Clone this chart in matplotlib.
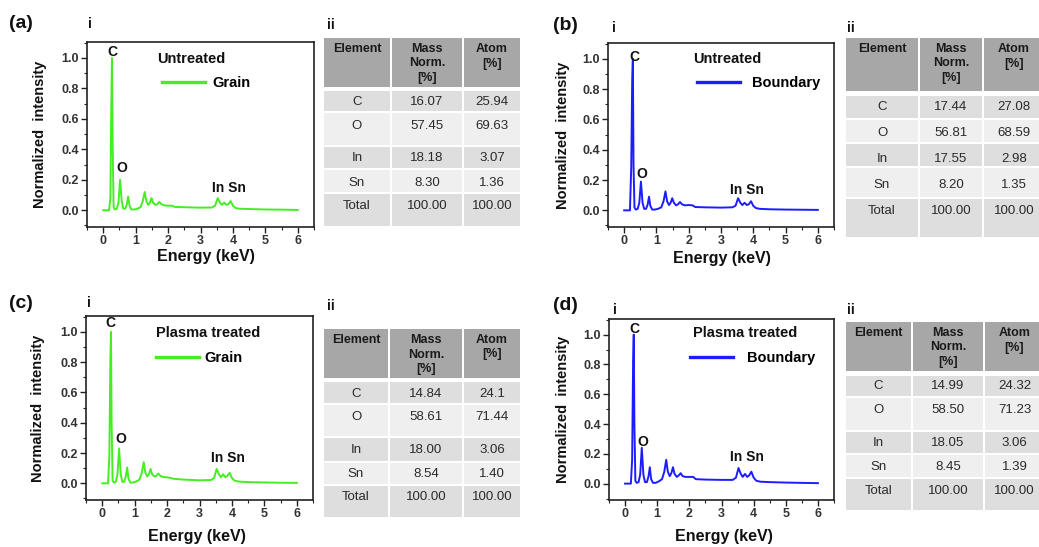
import matplotlib
matplotlib.use("Agg")
import matplotlib.pyplot as plt
from matplotlib.patches import Rectangle
from matplotlib.ticker import MultipleLocator, FormatStrFormatter

W, H = 1039, 547
plt.rcParams['font.family'] = ['Liberation Sans', 'DejaVu Sans']

# ---------------- data ----------------
energy = [0.00, 0.18, 0.22, 0.25, 0.27, 0.29, 0.32, 0.36, 0.42, 0.47, 0.52, 0.57,
          0.62, 0.68, 0.73, 0.77, 0.81, 0.87, 0.95, 1.05, 1.15, 1.22, 1.28, 1.33,
          1.39, 1.44, 1.49, 1.54, 1.61, 1.67, 1.73, 1.79, 1.88, 2.00, 2.12, 2.20,
          2.50, 3.00, 3.35, 3.45, 3.53, 3.60, 3.66, 3.73, 3.80, 3.86, 3.93, 4.00,
          4.08, 4.20, 4.50, 5.00, 5.50, 6.00]

intensity_a = [0.0, 0.0, 0.08, 0.70, 1.00, 0.45, 0.02, 0.005, 0.01, 0.05, 0.20, 0.06,
               0.01, 0.01, 0.04, 0.09, 0.03, 0.005, 0.005, 0.01, 0.02, 0.06, 0.12, 0.06,
               0.035, 0.05, 0.08, 0.05, 0.035, 0.04, 0.055, 0.04, 0.032, 0.03, 0.03, 0.022,
               0.02, 0.017, 0.018, 0.03, 0.08, 0.05, 0.035, 0.05, 0.035, 0.04, 0.06, 0.03,
               0.015, 0.01, 0.008, 0.005, 0.004, 0.002]
intensity_b = [0.0, 0.0, 0.29, 0.87, 1.00, 0.30, 0.02, 0.005, 0.01, 0.05, 0.19, 0.05,
               0.01, 0.01, 0.04, 0.09, 0.03, 0.005, 0.005, 0.01, 0.02, 0.06, 0.125, 0.06,
               0.035, 0.05, 0.08, 0.05, 0.033, 0.04, 0.055, 0.04, 0.033, 0.035, 0.033, 0.022,
               0.02, 0.018, 0.02, 0.03, 0.08, 0.05, 0.035, 0.05, 0.035, 0.04, 0.06, 0.03,
               0.015, 0.01, 0.007, 0.005, 0.004, 0.003]
intensity_c = [0.0, 0.0, 0.18, 0.80, 1.00, 0.40, 0.02, 0.005, 0.01, 0.06, 0.23, 0.06,
               0.01, 0.01, 0.05, 0.105, 0.03, 0.005, 0.005, 0.012, 0.025, 0.07, 0.14, 0.07,
               0.045, 0.06, 0.095, 0.06, 0.045, 0.05, 0.065, 0.05, 0.042, 0.04, 0.035, 0.03,
               0.025, 0.02, 0.022, 0.035, 0.095, 0.06, 0.04, 0.06, 0.04, 0.05, 0.07, 0.035,
               0.018, 0.012, 0.008, 0.006, 0.004, 0.003]
intensity_d = [0.0, 0.0, 0.16, 0.82, 1.00, 0.40, 0.02, 0.005, 0.01, 0.06, 0.24, 0.06,
               0.01, 0.01, 0.05, 0.11, 0.03, 0.005, 0.005, 0.015, 0.03, 0.08, 0.16, 0.08,
               0.05, 0.07, 0.11, 0.065, 0.045, 0.055, 0.07, 0.05, 0.045, 0.045, 0.045, 0.03,
               0.027, 0.025, 0.025, 0.04, 0.105, 0.065, 0.045, 0.065, 0.045, 0.055, 0.08, 0.04,
               0.02, 0.013, 0.01, 0.007, 0.005, 0.003]

x_ticks = [0, 1, 2, 3, 4, 5, 6]
y_ticks = [0.0, 0.2, 0.4, 0.6, 0.8, 1.0]

table_header = ["Element", "Mass\nNorm.\n[%]", "Atom\n[%]"]
elements = ["C", "O", "In", "Sn", "Total"]
mass_a = ["16.07", "57.45", "18.18", "8.30", "100.00"]
atom_a = ["25.94", "69.63", "3.07", "1.36", "100.00"]
mass_b = ["17.44", "56.81", "17.55", "8.20", "100.00"]
atom_b = ["27.08", "68.59", "2.98", "1.35", "100.00"]
mass_c = ["14.84", "58.61", "18.00", "8.54", "100.00"]
atom_c = ["24.1", "71.44", "3.06", "1.40", "100.00"]
mass_d = ["14.99", "58.50", "18.05", "8.45", "100.00"]
atom_d = ["24.32", "71.23", "3.06", "1.39", "100.00"]

GREEN = '#44ee22'
BLUE = '#1c1cff'

# ---------------- layout (pixels) ----------------
panels = [
    dict(tag='(a)', tag_xy=(21, 24), i_xy=(90, 24), ii_xy=(331, 25),
         box=(87, 42, 314, 227), color=GREEN, y=intensity_a,
         title='Untreated', title_xy=(157, 59), leg='Grain', leg_xy=(162, 83), leg_pad=0.48,
         C_xy=(112, 52), O_xy=(122, 168), InSn_xy=(229, 188),
         ylab_x=40, xlab_xy=(206, 256),
         cols=[323, 391, 463, 521],
         rows=[(37, 88), (90, 112), (112, 146), (146, 169), (169, 193), (193, 227)],
         text_y=[102, 126, 158, 183, 206], head_y=49,
         mass=mass_a, atom=atom_a),
    dict(tag='(b)', tag_xy=(565, 25), i_xy=(614, 28), ii_xy=(851, 28),
         box=(608, 43, 834, 227), color=BLUE, y=intensity_b,
         title='Untreated', title_xy=(693, 59), leg='Boundary', leg_xy=(697, 83), leg_pad=0.82,
         C_xy=(634, 57), O_xy=(642, 174), InSn_xy=(747, 190),
         ylab_x=563, xlab_xy=(722, 259),
         cols=[845, 919, 983, 1045],
         rows=[(37, 92), (95, 119), (119, 143), (143, 167), (167, 198), (198, 238)],
         text_y=[107, 133, 159, 185, 211], head_y=49,
         mass=mass_b, atom=atom_b),
    dict(tag='(c)', tag_xy=(21, 303), i_xy=(89, 303), ii_xy=(331, 306),
         box=(86, 316, 313, 500), color=GREEN, y=intensity_c,
         title='Plasma treated', title_xy=(156, 333), leg='Grain', leg_xy=(156, 358), leg_pad=0.34,
         C_xy=(110, 323), O_xy=(121, 439), InSn_xy=(228, 458),
         ylab_x=38, xlab_xy=(197, 537),
         cols=[323, 389, 463, 521],
         rows=[(328, 379), (381, 404), (404, 437), (437, 462), (462, 485), (485, 518)],
         text_y=[394, 417, 450, 474, 497], head_y=340,
         mass=mass_c, atom=atom_c),
    dict(tag='(d)', tag_xy=(565, 306), i_xy=(615, 310), ii_xy=(851, 310),
         box=(609, 319, 834, 500), color=BLUE, y=intensity_d,
         title='Plasma treated', title_xy=(693, 333), leg='Boundary', leg_xy=(690, 358), leg_pad=0.96,
         C_xy=(634, 329), O_xy=(643, 442), InSn_xy=(747, 457),
         ylab_x=563, xlab_xy=(724, 537),
         cols=[845, 912, 984, 1045],
         rows=[(321, 372), (375, 397), (397, 431), (431, 454), (454, 478), (478, 511)],
         text_y=[386, 410, 443, 467, 491], head_y=333,
         mass=mass_d, atom=atom_d),
]

ROW_COLORS = ['#dedede', '#efefef', '#dedede', '#efefef', '#dedede']
HEAD_COLOR = '#a7a7a7'

fig = plt.figure(figsize=(W / 100, H / 100), dpi=100)


def fx(x):
    return x / W


def fy(y):
    return 1 - y / H


def ftext(x, y, s, **kw):
    kw.setdefault('ha', 'center')
    kw.setdefault('va', 'center')
    fig.text(fx(x), fy(y), s, **kw)


for p in panels:
    l, t, r, b = p['box']
    ax = fig.add_axes([fx(l), fy(b), (r - l) / W, (b - t) / H])
    line, = ax.plot(energy, p['y'], color=p['color'], lw=1.4, label=p['leg'])
    ax.set_xlim(-0.5, 6.5)
    ax.set_ylim(-0.11, 1.105)
    ax.set_xticks(x_ticks)
    ax.set_yticks(y_ticks)
    ax.yaxis.set_major_formatter(FormatStrFormatter('%.1f'))
    ax.xaxis.set_minor_locator(MultipleLocator(0.5))
    ax.yaxis.set_minor_locator(MultipleLocator(0.1))
    ax.tick_params(which='major', direction='out', length=4, width=1.0,
                   labelsize=9, pad=2, colors='#222222', labelcolor='#333333')
    ax.tick_params(which='minor', direction='out', length=2.5, width=0.8, colors='#222222')
    ax.tick_params(top=False, right=False, which='both')
    for lab in ax.get_xticklabels() + ax.get_yticklabels():
        lab.set_fontweight('bold')
    for sp in ax.spines.values():
        sp.set_linewidth(1.2)
        sp.set_color('#222222')

    leg = ax.legend(loc='center left', bbox_to_anchor=(fx(p['leg_xy'][0]), fy(p['leg_xy'][1])),
                    bbox_transform=fig.transFigure, frameon=False, borderpad=0,
                    borderaxespad=0, handlelength=2.95, handletextpad=p['leg_pad'],
                    prop=dict(weight='bold', size=10.5))
    for lg in leg.get_lines():
        lg.set_linewidth(2.4)

    ftext(*p['title_xy'], p['title'], ha='left', fontsize=10.5, fontweight='bold', color='#111111')
    ftext(*p['C_xy'], 'C', fontsize=10, fontweight='bold', color='#111111')
    ftext(*p['O_xy'], 'O', fontsize=10, fontweight='bold', color='#111111')
    ftext(*p['InSn_xy'], 'In Sn', fontsize=10, fontweight='bold', color='#111111')
    ftext(p['ylab_x'], (t + b) / 2, 'Normalized  intensity', rotation=90,
          fontsize=10.5, fontweight='bold', color='#111111')
    ftext(*p['xlab_xy'], 'Energy (keV)', fontsize=11.5, fontweight='bold', color='#111111')
    ftext(*p['tag_xy'], p['tag'], fontsize=14, fontweight='bold', color='#111111')
    ftext(*p['i_xy'], 'i', fontsize=10, fontweight='bold', color='#111111')
    ftext(*p['ii_xy'], 'ii', fontsize=10, fontweight='bold', color='#111111')

    # ---- table ----
    cols = p['cols']
    for ri, (rt, rb) in enumerate(p['rows']):
        fc = HEAD_COLOR if ri == 0 else ROW_COLORS[ri - 1]
        for ci in range(3):
            x0, x1 = cols[ci] + 1, cols[ci + 1] - 1
            fig.add_artist(Rectangle((fx(x0), fy(rb - 1)), (x1 - x0) / W, (rb - rt - 2) / H,
                                     transform=fig.transFigure, facecolor=fc,
                                     edgecolor='none', zorder=0))
    for ci, head in enumerate(table_header):
        cx = (cols[ci] + cols[ci + 1]) / 2
        for li, s in enumerate(head.split('\n')):
            ftext(cx, p['head_y'] + li * 14.5, s, fontsize=9, fontweight='bold', color='#1a1a1a')
    for ri in range(len(elements)):
        ty = p['text_y'][ri]
        vals = [elements[ri], p['mass'][ri], p['atom'][ri]]
        for ci, s in enumerate(vals):
            cx = (cols[ci] + cols[ci + 1]) / 2
            ftext(cx, ty, s, fontsize=9.5, color='#2a2a2a')

fig.savefig('out.png', dpi=100, facecolor='white')
